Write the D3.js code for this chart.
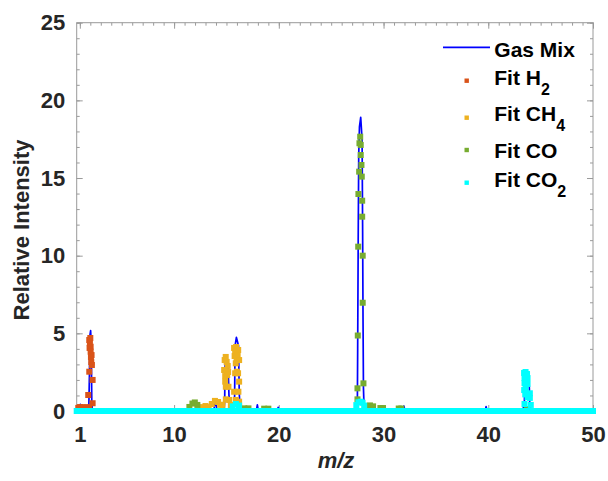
<!DOCTYPE html>
<html><head><meta charset="utf-8">
<script src="https://cdn.jsdelivr.net/npm/d3@7"></script>
<style>
body{margin:0;background:#fff}
svg{display:block}
text{font-family:"Liberation Sans",Arial,sans-serif;font-weight:bold}
</style>
</head><body>
<svg id="c" width="608" height="481"></svg>
<script>
// ---------------- data ----------------
const xTicks = [1, 10, 20, 30, 40, 50];
const yTicks = [0, 5, 10, 15, 20, 25];
const seriesNames = ["Gas Mix", "Fit H", "Fit CH", "Fit CO", "Fit CO"];
const seriesSubs  = ["", "2", "4", "", "2"];

// measured spectrum [m/z, intensity]
const gasMix = [
  [0.7,0],[0.95,0],[1.05,0.43],[1.15,0],
  [1.85,0],[1.92,2.5],[1.97,4.9],[2.03,5.17],[2.09,4.2],[2.14,0.6],[2.2,0],
  [13.8,0],[13.88,0.5],[13.93,0.79],[14.0,0.5],[14.1,0],
  [14.75,0],[14.83,0.6],[14.86,2.8],[14.94,3.43],[15.15,3.1],[15.24,1.0],[15.3,0],
  [15.7,0],[15.78,1.0],[15.82,4.2],[15.95,4.74],[16.15,4.2],[16.22,1.2],[16.3,0],
  [17.85,0],[17.95,0.39],[18.05,0],
  [19.85,0],[19.94,0.24],[20.05,0],
  [27.4,0],[27.5,0.5],[27.53,4],[27.58,11],[27.63,16.5],[27.7,18.3],[27.82,18.9],
  [27.95,17.5],[28.0,12],[28.04,6],[28.08,1.5],[28.14,0.2],[28.25,0],
  [31.85,0],[31.94,0.32],[32.05,0],
  [39.7,0],[39.79,0.28],[39.9,0],
  [43.3,0],[43.45,0.6],[43.5,2.2],[43.6,2.5],[43.72,2.53],[43.85,2.4],[43.92,1.5],[43.96,0.5],[44.1,0],
  [50,0]
];

const h2Fit = [
  [0.85,0.2],[1.0,0.25],[1.08,0.24],[1.33,0.24],[1.65,0.24],[1.90,0.24],
  [1.90,4.57],[1.96,4.36],[2.0,4.7],[2.03,4.14],[1.93,4.06],[2.03,3.82],[2.06,3.48],
  [2.12,3.6],[2.09,3.15],[2.15,2.96],[1.90,2.53],[2.22,2.0],[1.80,1.03],[2.22,0.5]
];

const ch4Fit = [
  [12.7,0.25],[13.0,0.32],[13.3,0.25],
  [13.6,0.45],[13.9,0.65],[14.2,0.58],[14.4,0.4],
  [14.83,3.28],[14.93,3.48],[15.02,3.16],[15.12,2.9],[14.78,2.64],[15.16,2.51],
  [14.88,2.25],[15.07,2.32],[14.88,1.89],[14.94,1.56],[15.19,1.56],[14.94,0.75],
  [15.26,0.71],[14.62,0.39],[15.42,0.39],
  [15.73,4.06],[15.92,4.12],[15.83,3.8],[16.12,3.93],[15.78,3.54],[16.07,3.6],
  [15.97,3.35],[16.21,3.28],[15.89,3.07],[15.99,2.53],[16.11,2.43],[15.83,2.43],
  [16.21,1.89],[15.73,1.24],[16.14,1.24],[15.89,0.71],[16.21,0.6],[16.21,0.28]
];

const coFit = [
  [11.46,0.26],[11.75,0.48],[11.98,0.55],[12.22,0.39],
  [16.7,0.17],[17.1,0.17],[18.6,0.15],[19.0,0.15],
  [27.77,17.66],[27.70,17.24],[27.82,17.13],[27.82,16.48],[27.89,15.84],[27.67,15.41],
  [27.92,15.09],[27.60,13.97],[27.96,13.54],[27.96,12.51],[27.58,10.58],[28.01,10.0],
  [28.01,6.97],[27.54,4.86],[27.51,1.46],[28.08,1.78],[27.51,0.75],
  [28.4,0.3],[28.7,0.36],[29.0,0.3],[29.7,0.19],[29.95,0.19],[31.45,0.16],[31.7,0.16],
  [43.68,0.12]
];

const co2BaseMz = [0.7,1.2,1.7,2.2,2.7,3.2,3.7,4.2,4.7,5.2,5.7,6.2,6.7,7.2,7.7,8.2,8.7,9.2,9.7,
  10.2,10.7,11.2,11.7,12.2,12.7,13.2,13.7,14.2,14.7,15.2,15.7,16.2,16.7,17.2,17.7,18.2,18.7,19.2,19.7,
  20.2,20.7,21.2,21.7,22.2,22.7,23.2,23.7,24.2,24.7,25.2,25.7,26.2,26.7,27.2,27.7,28.2,28.7,29.2,29.7,
  30.2,30.7,31.2,31.7,32.2,32.7,33.2,33.7,34.2,34.7,35.2,35.7,36.2,36.7,37.2,37.7,38.2,38.7,39.2,39.7,
  40.2,40.7,41.2,41.7,42.2,42.7,43.2,43.7,44.2,44.7,45.2,45.7,46.2,46.7,47.2,47.7,48.2,48.7,49.2,49.7,50.0];
const co2Peaks = [
  [15.6,0.3],[15.9,0.45],[16.2,0.35],
  [27.4,0.38],[27.6,0.56],[27.82,0.6],[28.0,0.53],[28.15,0.35],
  [43.42,2.45],[43.56,2.51],[43.70,2.38],[43.46,2.12],[43.75,2.12],[43.46,1.80],[43.75,1.74],
  [43.56,1.48],[43.43,1.35],[43.53,1.07],[43.97,1.14],[43.97,0.84],[43.75,0.9],[43.46,0.45],[44.06,0.39]
];

// ---------------- chart ----------------
const svg = d3.select("#c");
const L = 76.7, R = 593, T = 22.7, B = 411;
const x = d3.scaleLinear().domain([0.7, 50]).range([L, R]);
const y = d3.scaleLinear().domain([0, 25]).range([B, T]);
const axisCol = "#9a9a9a", textCol = "#262626";

// box
svg.append("rect").attr("x", L).attr("y", T).attr("width", R - L).attr("height", B - T)
  .attr("fill", "none").attr("stroke", axisCol).attr("stroke-width", 1);

function styleAxis(g) {
  g.select(".domain").remove();
  g.selectAll(".tick line").attr("stroke", axisCol);
  g.selectAll("text").attr("fill", textCol).style("font-size", "22px")
    .style("font-family", '"Liberation Sans",Arial,sans-serif').style("font-weight", "bold");
}
const minorX = d3.range(1, 51, 1), minorY = d3.range(0, 26, 1);

// minor ticks
svg.append("g").attr("transform", `translate(0,${B})`).call(d3.axisBottom(x).tickValues(minorX).tickSize(-3).tickFormat("")).call(styleAxis);
svg.append("g").attr("transform", `translate(0,${T})`).call(d3.axisTop(x).tickValues(minorX).tickSize(-3).tickFormat("")).call(styleAxis);
svg.append("g").attr("transform", `translate(${L},0)`).call(d3.axisLeft(y).tickValues(minorY).tickSize(-3).tickFormat("")).call(styleAxis);
svg.append("g").attr("transform", `translate(${R},0)`).call(d3.axisRight(y).tickValues(minorY).tickSize(-3).tickFormat("")).call(styleAxis);
// major ticks
svg.append("g").attr("transform", `translate(0,${B})`).call(d3.axisBottom(x).tickValues(xTicks).tickSize(-6).tickPadding(15).tickFormat(d3.format("d"))).call(styleAxis);
svg.append("g").attr("transform", `translate(0,${T})`).call(d3.axisTop(x).tickValues(xTicks).tickSize(-6).tickFormat("")).call(styleAxis);
svg.append("g").attr("transform", `translate(${L},0)`).call(d3.axisLeft(y).tickValues(yTicks).tickSize(-6).tickPadding(11.5).tickFormat(d3.format("d"))).call(styleAxis);
svg.append("g").attr("transform", `translate(${R},0)`).call(d3.axisRight(y).tickValues(yTicks).tickSize(-6).tickFormat("")).call(styleAxis);

// axis labels
svg.append("text").attr("transform", "translate(28.5,230) rotate(-90)").attr("text-anchor", "middle")
  .attr("fill", textCol).style("font-size", "22px").text("Relative Intensity");
svg.append("text").attr("x", 336).attr("y", 468).attr("text-anchor", "middle")
  .attr("fill", textCol).style("font-size", "22px").style("font-style", "italic").text("m/z");

// data
const colors = ["#0000ff", "#D95319", "#EDB120", "#77AC30", "#00FFFF"];
const line = d3.line().x(d => x(d[0])).y(d => y(d[1]));
svg.append("path").datum(gasMix).attr("d", line).attr("fill", "none")
  .attr("stroke", colors[0]).attr("stroke-width", 1.7).attr("stroke-linejoin", "round");

const co2Fit = co2BaseMz.map(m => [m, 0]).concat(co2Peaks);
const fits = [h2Fit, ch4Fit, coFit, co2Fit];
const ms = 6;
fits.forEach((data, i) => {
  svg.append("g").selectAll("rect").data(data).join("rect")
    .attr("x", d => x(d[0]) - ms / 2).attr("y", d => y(d[1]) - ms / 2)
    .attr("width", ms).attr("height", ms).attr("fill", colors[i + 1]);
});

// legend
const lg = svg.append("g");
const markY = [47.3, 80.7, 117.7, 150, 182.7];
const baseY = [57, 85, 120.7, 158.3, 186.7];
lg.append("line").attr("x1", 443).attr("x2", 490).attr("y1", markY[0]).attr("y2", markY[0])
  .attr("stroke", colors[0]).attr("stroke-width", 1.7);
for (let i = 1; i < 5; i++) {
  lg.append("rect").attr("x", 466.7 - 2.2).attr("y", markY[i] - 2.2).attr("width", 4.4).attr("height", 4.4)
    .attr("fill", colors[i]);
}
seriesNames.forEach((n, i) => {
  const t = lg.append("text").attr("x", 494.3).attr("y", baseY[i]).attr("fill", "#000")
    .style("font-size", "21px").text(n);
  if (seriesSubs[i]) t.append("tspan").attr("dy", 10).style("font-size", "16px").text(seriesSubs[i]);
});
</script>
</body></html>
